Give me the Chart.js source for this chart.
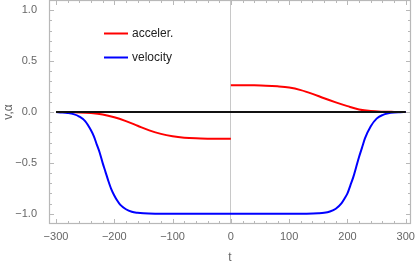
<!DOCTYPE html>
<html>
<head>
<meta charset="utf-8">
<script src="https://cdn.jsdelivr.net/npm/chart.js@4.4.0/dist/chart.umd.min.js"></script>
<style>
  html, body { margin: 0; padding: 0; background: #fff; }
</style>
</head>
<body>
<canvas id="chart" width="415" height="265"></canvas>
<script>
// velocity curve
const velT = [-300, -290, -280, -270, -260, -250, -240, -235, -230, -225, -220, -215, -210, -205, -200, -195, -190, -180, -170, -160, -150, -130, -100, 0,
  100, 130, 150, 160, 170, 180, 190, 195, 200, 205, 210, 215, 220, 225, 230, 240, 250, 260, 270, 280, 290, 300];
const velV = [0, -0.004, -0.01, -0.021, -0.045, -0.09, -0.18, -0.24, -0.32, -0.4, -0.5, -0.59, -0.68, -0.76, -0.82, -0.87, -0.91, -0.955, -0.98, -0.99, -0.995, -0.999, -1, -1,
  -1, -0.999, -0.995, -0.99, -0.977, -0.95, -0.895, -0.85, -0.8, -0.72, -0.64, -0.54, -0.44, -0.35, -0.26, -0.14, -0.065, -0.03, -0.013, -0.005, -0.002, 0];

// acceleration, two pieces (jump at t = 0)
const accLeftT = [-300, -280, -260, -240, -220, -200, -180, -160, -140, -120, -100, -80, -60, -40, -20, 0];
const accLeftV = [0, -0.001, -0.004, -0.011, -0.025, -0.052, -0.09, -0.135, -0.18, -0.215, -0.238, -0.252, -0.259, -0.262, -0.263, -0.263];
const accRightT = [0, 20, 40, 60, 80, 100, 120, 140, 160, 180, 200, 220, 240, 260, 280, 300];
const accRightV = [0.263, 0.263, 0.262, 0.259, 0.252, 0.24, 0.215, 0.178, 0.135, 0.095, 0.058, 0.025, 0.009, 0.003, 0.001, 0];

const zeroT = [-300, 300];
const zeroV = [0, 0];

const legendLabels = ["acceler.", "velocity"];

const toPoints = (ts, vs) => ts.map((t, i) => ({ x: t, y: vs[i] }));
const fmt = (v) => (v < 0 ? "\u2212" : "") + Math.abs(v);

const framePlugin = {
  id: "frame",
  beforeDatasetsDraw(chart) {
    const { ctx, chartArea: a, scales } = chart;
    ctx.save();
    ctx.strokeStyle = "#b8b8b8";
    ctx.lineWidth = 1;
    ctx.beginPath();
    for (let v = -300; v <= 300; v += 20) {
      const px = Math.round(scales.x.getPixelForValue(v)) + 0.5;
      const len = v % 100 === 0 ? 5 : 3;
      ctx.moveTo(px, a.bottom); ctx.lineTo(px, a.bottom - len);
      ctx.moveTo(px, a.top); ctx.lineTo(px, a.top + len);
    }
    for (let k = -10; k <= 10; k++) {
      const py = Math.round(scales.y.getPixelForValue(k / 10)) + 0.5;
      const len = k % 5 === 0 ? 5 : 3;
      ctx.moveTo(a.left, py); ctx.lineTo(a.left + len, py);
      ctx.moveTo(a.right, py); ctx.lineTo(a.right - len, py);
    }
    ctx.stroke();
    ctx.lineWidth = 1.2;
    ctx.strokeRect(a.left + 0.5, a.top + 0.5, a.width - 1, a.height - 1);
    ctx.restore();
  },
};

const legendPlugin = {
  id: "innerLegend",
  afterDatasetsDraw(chart) {
    const { ctx } = chart;
    const colors = ["#ff0000", "#0000ff"];
    ctx.save();
    ctx.font = "12px 'Liberation Sans', Arial, sans-serif";
    ctx.textBaseline = "middle";
    legendLabels.forEach((label, i) => {
      const y = 33.5 + i * 24;
      ctx.strokeStyle = colors[i];
      ctx.lineWidth = 2;
      ctx.beginPath();
      ctx.moveTo(104, y);
      ctx.lineTo(128, y);
      ctx.stroke();
      ctx.fillStyle = "#222";
      ctx.fillText(label, 132, y);
    });
    ctx.restore();
  },
};

const tickFont = { family: "'Liberation Sans', Arial, sans-serif", size: 11 };

new Chart(document.getElementById("chart"), {
  type: "line",
  data: {
    datasets: [
      {
        label: "zero",
        data: toPoints(zeroT, zeroV),
        borderColor: "#111",
        borderWidth: 2,
        order: 0,
      },
      {
        label: "acceler.",
        data: toPoints(accLeftT, accLeftV),
        borderColor: "#ff0000",
        borderWidth: 2,
        cubicInterpolationMode: "monotone",
        order: 2,
      },
      {
        label: "acceler. (t>0)",
        data: toPoints(accRightT, accRightV),
        borderColor: "#ff0000",
        borderWidth: 2,
        cubicInterpolationMode: "monotone",
        order: 2,
      },
      {
        label: "velocity",
        data: toPoints(velT, velV),
        borderColor: "#0000ff",
        borderWidth: 2,
        cubicInterpolationMode: "monotone",
        order: 1,
      },
    ],
  },
  options: {
    responsive: false,
    animation: false,
    events: [],
    layout: { padding: { left: 0, right: 4, top: 0, bottom: 0 } },
    elements: { point: { radius: 0 } },
    plugins: {
      legend: { display: false },
      tooltip: { enabled: false },
    },
    scales: {
      x: {
        type: "linear",
        min: -312,
        max: 309,
        border: { display: false },
        grid: {
          drawTicks: false,
          color: (c) => (c.tick && c.tick.value === 0 ? "#c8c8c8" : "transparent"),
          lineWidth: 1,
        },
        ticks: {
          stepSize: 100,
          includeBounds: false,
          maxRotation: 0,
          padding: 6,
          color: "#666",
          font: tickFont,
          callback: (v) => fmt(v),
        },
        title: {
          display: true,
          text: "t",
          color: "#666",
          font: { family: "'Liberation Sans', Arial, sans-serif", size: 12 },
          padding: { top: 0, bottom: 0 },
        },
        afterFit: (scale) => {
          scale.height = 41;
          scale.paddingLeft = 0;
          scale.paddingRight = 0;
        },
      },
      y: {
        min: -1.1,
        max: 1.1,
        border: { display: false },
        grid: { display: false },
        ticks: {
          stepSize: 0.5,
          includeBounds: false,
          padding: 4,
          color: "#666",
          font: tickFont,
          callback: (v) => (v < 0 ? "\u2212" : "") + Math.abs(v).toFixed(1),
        },
        title: {
          display: true,
          text: "v,\u03b1",
          color: "#666",
          font: { family: "'Liberation Sans', Arial, sans-serif", size: 12 },
          padding: { top: 1, bottom: 0 },
        },
        afterFit: (scale) => {
          scale.width = 49;
          scale.paddingTop = 0;
          scale.paddingBottom = 0;
        },
      },
    },
  },
  plugins: [framePlugin, legendPlugin],
});
</script>
</body>
</html>
